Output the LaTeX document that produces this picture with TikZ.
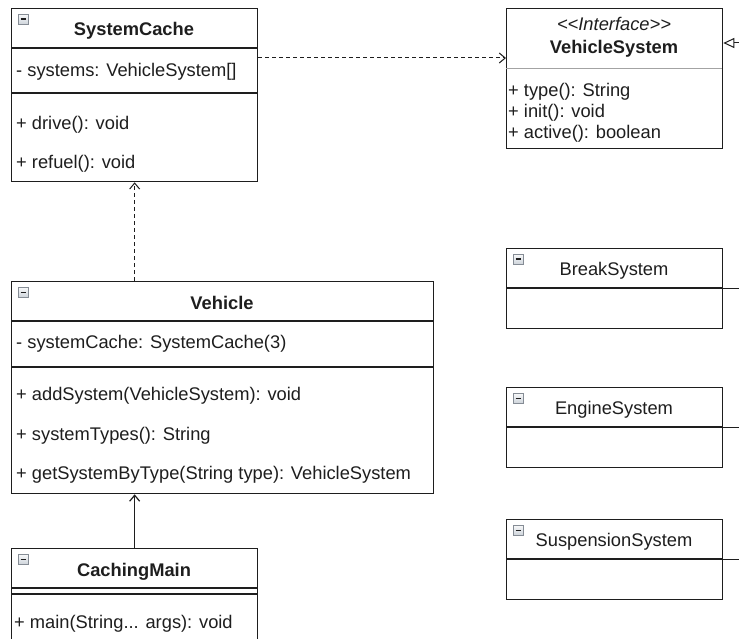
\documentclass[tikz,border=0pt]{standalone}
\usepackage{fontspec}
\setmainfont{Liberation Sans}
\usepackage{tikz}
\usetikzlibrary{arrows.meta,calc}
\definecolor{ink}{HTML}{1E1E1E}
\definecolor{rule}{HTML}{A3A3A3}
\definecolor{foldLine}{HTML}{858C95}
\definecolor{foldTint}{HTML}{CDD3DA}
\tikzset{
  cls/.style={draw=ink, fill=white, line width=1.3pt, inner sep=0pt, anchor=north west},
  divider/.style={draw=ink, line width=1.3pt},
  dividerfaint/.style={draw=rule, line width=1pt},
  fold/.style={draw=foldLine, top color=white!85!foldTint, bottom color=foldTint, line width=0.7pt, inner sep=0pt, minimum size=10pt, anchor=north west,
    path picture={\draw[ink, line width=1.7pt] ([xshift=2.2pt]path picture bounding box.west) -- ([xshift=-2.2pt]path picture bounding box.east);}},
  flowdep/.style={draw=ink, line width=1pt, dash pattern=on 4pt off 3pt, -{Straight Barb[length=6pt,width=10pt]}},
  flowuse/.style={draw=ink, line width=1.2pt, -{Straight Barb[length=6pt,width=10pt]}},
  flowreal/.style={draw=ink, line width=1pt},
  t/.style={inner sep=0pt, anchor=base, font=\fontsize{18.3}{22}\selectfont, text=ink},
  tl/.style={t, anchor=base west},
  tb/.style={t, font=\fontsize{18.3}{22}\selectfont\bfseries},
  ti/.style={t, font=\fontsize{18.3}{22}\selectfont\itshape},
}
\begin{document}
\begin{tikzpicture}[x=1pt, y=-1pt]
  \path[use as bounding box, clip] (0,0) rectangle (739,639);

  \node[cls, minimum width=246pt, minimum height=173pt] (cache) at (11,8) {};
  \node[fold] (cacheFold) at (18,14) {};
  \node[tb] (cacheName) at (134,36) {SystemCache};
  \draw[divider] (11,48) -- (257,48); \draw[divider] (11,93) -- (257,93);
  \node[tl] (cacheSys) at (16,77) {- systems: VehicleSystem[]};
  \node[tl] (cacheDrive) at (16,130) {+ drive(): void};
  \node[tl] (cacheFuel) at (16,169) {+ refuel(): void};

  \node[cls, minimum width=216pt, minimum height=140pt] (vsys) at (506,8) {};
  \node[ti] (vsysStereo) at (614,31) {<{}<Interface>{}>};
  \node[tb] (vsysName) at (614,54) {VehicleSystem};
  \draw[dividerfaint] (506,69) -- (722,69);
  \node[tl] (vsysType) at (508,97) {+ type(): String};
  \node[tl] (vsysInit) at (508,118) {+ init(): void};
  \node[tl] (vsysActive) at (508,139) {+ active(): boolean};

  \node[cls, minimum width=216pt, minimum height=80pt] (brk) at (506,248) {};
  \node[fold] (brkFold) at (513,254) {};
  \node[t] (brkName) at (614,275) {BreakSystem};
  \draw[divider] (506,288) -- (722,288);

  \node[cls, minimum width=216pt, minimum height=80pt] (eng) at (506,387) {};
  \node[fold] (engFold) at (513,393) {};
  \node[t] (engName) at (614,414) {EngineSystem};
  \draw[divider] (506,427) -- (722,427);

  \node[cls, minimum width=216pt, minimum height=80pt] (susp) at (506,519) {};
  \node[fold] (suspFold) at (513,525) {};
  \node[t] (suspName) at (614,546) {SuspensionSystem};
  \draw[divider] (506,559) -- (722,559);

  \node[cls, minimum width=422pt, minimum height=212pt] (veh) at (11,281) {};
  \node[fold] (vehFold) at (18,287) {};
  \node[tb] (vehName) at (222,309) {Vehicle};
  \draw[divider] (11,321) -- (433,321); \draw[divider] (11,367) -- (433,367);
  \node[tl] (vehCache) at (16,348) {- systemCache: SystemCache(3)};
  \node[tl] (vehAdd) at (16,400) {+ addSystem(VehicleSystem): void};
  \node[tl] (vehTypes) at (16,440) {+ systemTypes(): String};
  \node[tl] (vehGet) at (16,479) {+ getSystemByType(String type): VehicleSystem};

  \node[cls, minimum width=246pt, minimum height=120pt] (main) at (11,548) {};
  \node[fold] (mainFold) at (18,554) {};
  \node[tb] (mainName) at (134,576) {CachingMain};
  \draw[divider] (11,588) -- (257,588); \draw[divider] (11,594) -- (257,594);
  \node[tl] (mainMain) at (14,628) {+ main(String... args): void};

  % links
  \draw[flowdep] ($(cache.north east)+(0,50)$) -- ($(vsys.north west)+(0,50)$);
  \draw[flowdep] (cache.south |- veh.north) -- (cache.south);
  \draw[flowuse] (main.north) -- (main.north |- veh.south);

  % realisations, cut off at the right edge
  \coordinate (vsysIn) at (745,43);
  \coordinate (brkOut) at (745,288);
  \coordinate (engOut) at (745,427);
  \coordinate (suspOut) at (745,559);
  \draw[flowreal, {Triangle[open, length=11pt, width=10pt]}-] (vsys.east |- vsysIn) -- (vsysIn);
  \draw[flowreal] (brk.east |- brkOut) -- (brkOut);
  \draw[flowreal] (eng.east |- engOut) -- (engOut);
  \draw[flowreal] (susp.east |- suspOut) -- (suspOut);
\end{tikzpicture}
\end{document}
